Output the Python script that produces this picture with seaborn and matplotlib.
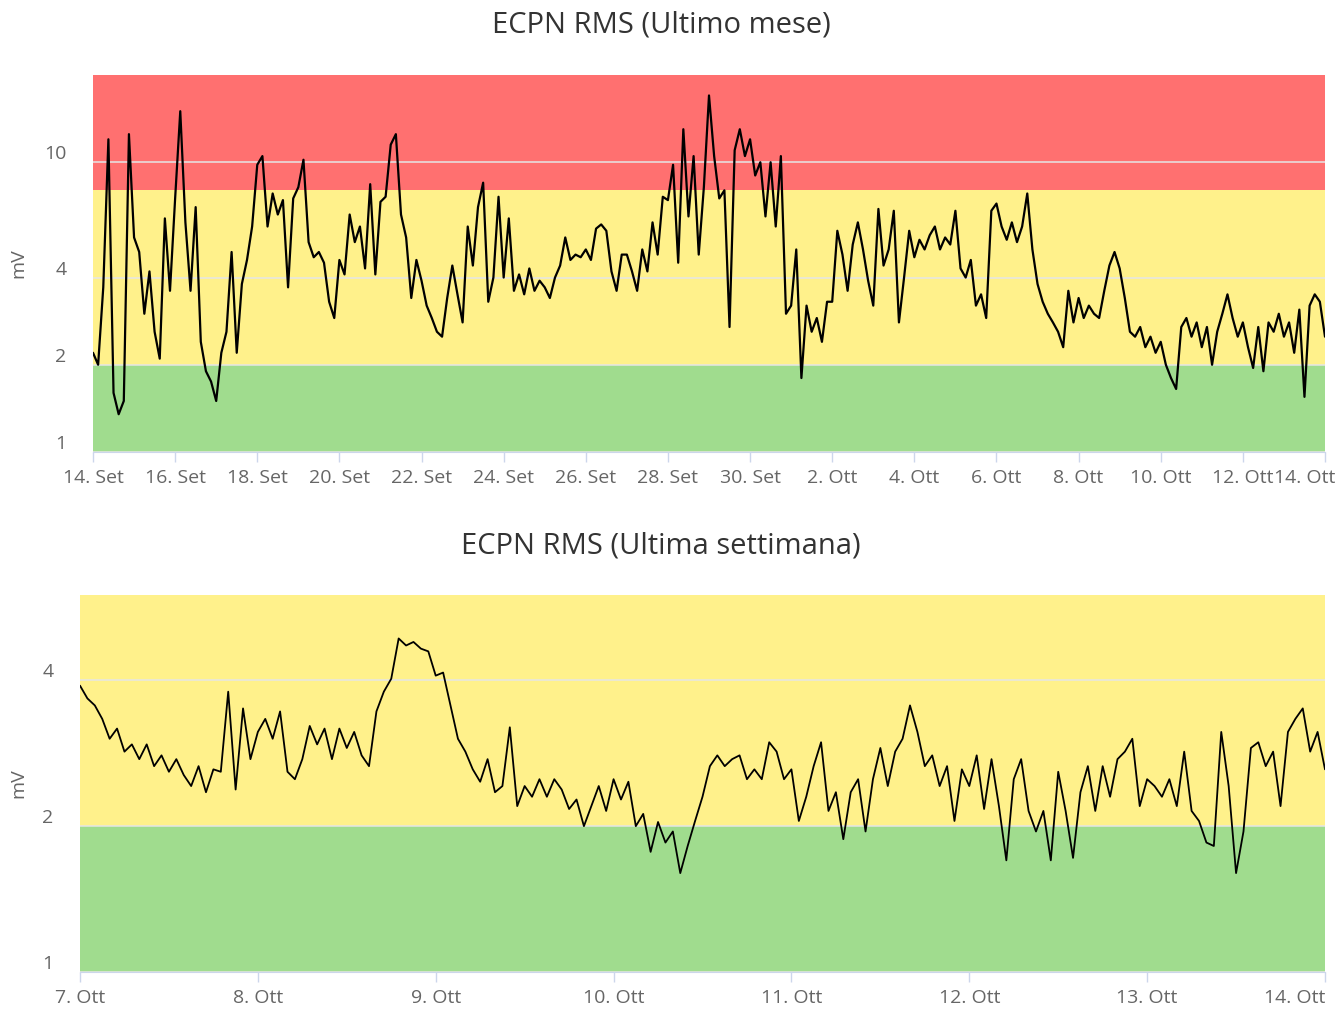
import numpy as np
import pandas as pd
import matplotlib
matplotlib.use("Agg")
import matplotlib.pyplot as plt
import matplotlib.transforms as mtransforms
import seaborn as sns

# ---- data ----
# last month, one reading every 3 hours starting 14 Sep
month_start = "2016-09-14"
month_mv = [
    2.2, 2.0, 3.7, 12.0, 1.6, 1.35, 1.5, 12.5,
    5.5, 4.9, 3.0, 4.2, 2.6, 2.1, 6.4, 3.6,
    7.5, 15.0, 6.2, 3.6, 7.0, 2.4, 1.9, 1.75,
    1.5, 2.2, 2.6, 4.9, 2.2, 3.8, 4.6, 6.0,
    9.8, 10.5, 6.0, 7.8, 6.6, 7.4, 3.7, 7.5,
    8.2, 10.2, 5.3, 4.7, 4.9, 4.5, 3.3, 2.9,
    4.6, 4.1, 6.6, 5.3, 6.0, 4.3, 8.4, 4.1,
    7.3, 7.6, 11.5, 12.5, 6.6, 5.5, 3.4, 4.6,
    3.9, 3.2, 2.9, 2.6, 2.5, 3.4, 4.4, 3.5,
    2.8, 6.0, 4.4, 7.0, 8.5, 3.3, 4.0, 7.6,
    4.0, 6.4, 3.6, 4.1, 3.5, 4.3, 3.6, 3.9,
    3.7, 3.4, 4.0, 4.4, 5.5, 4.6, 4.8, 4.7,
    5.0, 4.6, 5.9, 6.1, 5.8, 4.2, 3.6, 4.8,
    4.8, 4.2, 3.6, 5.0, 4.2, 6.2, 4.8, 7.6,
    7.4, 9.8, 4.5, 13.0, 6.5, 10.5, 4.8, 8.2,
    17.0, 10.5, 7.5, 8.0, 2.7, 11.0, 13.0, 10.5,
    12.0, 9.0, 10.0, 6.5, 10.0, 6.0, 10.5, 3.0,
    3.2, 5.0, 1.8, 3.2, 2.6, 2.9, 2.4, 3.3,
    3.3, 5.8, 4.8, 3.6, 5.2, 6.2, 5.0, 3.9,
    3.2, 6.9, 4.4, 5.0, 6.8, 2.8, 4.0, 5.8,
    4.7, 5.4, 5.0, 5.6, 6.0, 5.0, 5.5, 5.2,
    6.8, 4.3, 4.0, 4.6, 3.2, 3.5, 2.9, 6.8,
    7.2, 6.0, 5.4, 6.2, 5.3, 6.0, 7.8, 5.0,
    3.8, 3.3, 3.0, 2.8, 2.6, 2.3, 3.6, 2.8,
    3.4, 2.9, 3.2, 3.0, 2.9, 3.6, 4.4, 4.9,
    4.3, 3.4, 2.6, 2.5, 2.7, 2.3, 2.5, 2.2,
    2.4, 2.0, 1.8, 1.65, 2.7, 2.9, 2.5, 2.8,
    2.3, 2.7, 2.0, 2.6, 3.0, 3.5, 2.9, 2.5,
    2.8, 2.3, 1.95, 2.7, 1.9, 2.8, 2.6, 3.0,
    2.5, 2.8, 2.2, 3.1, 1.55, 3.2, 3.5, 3.3,
    2.5,
]
month_ticks = ["2016-09-14", "2016-09-16", "2016-09-18", "2016-09-20", "2016-09-22",
               "2016-09-24", "2016-09-26", "2016-09-28", "2016-09-30", "2016-10-02",
               "2016-10-04", "2016-10-06", "2016-10-08", "2016-10-10", "2016-10-12",
               "2016-10-14"]
month_tick_labels = ["14. Set", "16. Set", "18. Set", "20. Set", "22. Set", "24. Set",
                     "26. Set", "28. Set", "30. Set", "2. Ott", "4. Ott", "6. Ott",
                     "8. Ott", "10. Ott", "12. Ott", "14. Ott"]

# last week, one reading per hour starting 7 Oct
week_start = "2016-10-07"
week_mv = [
    3.9, 3.67, 3.55, 3.33, 3.03, 3.18, 2.85, 2.95, 2.75, 2.95, 2.66, 2.8,
    2.59, 2.75, 2.55, 2.42, 2.66, 2.35, 2.62, 2.59, 3.79, 2.38, 3.5, 2.75,
    3.13, 3.33, 3.03, 3.45, 2.59, 2.5, 2.75, 3.22, 2.95, 3.18, 2.75, 3.18,
    2.9, 3.13, 2.8, 2.66, 3.45, 3.79, 4.03, 4.88, 4.72, 4.8, 4.65, 4.59,
    4.09, 4.15, 3.55, 3.03, 2.85, 2.62, 2.47, 2.75, 2.35, 2.42, 3.2, 2.2,
    2.42, 2.3, 2.5, 2.3, 2.5, 2.38, 2.17, 2.27, 2.0, 2.2, 2.42, 2.15,
    2.5, 2.27, 2.47, 2.0, 2.12, 1.77, 2.04, 1.85, 1.95, 1.6, 1.82, 2.05,
    2.3, 2.66, 2.8, 2.66, 2.75, 2.8, 2.5, 2.62, 2.5, 2.98, 2.85, 2.5,
    2.62, 2.05, 2.3, 2.66, 2.98, 2.15, 2.35, 1.88, 2.35, 2.5, 1.95, 2.5,
    2.9, 2.42, 2.85, 3.03, 3.55, 3.13, 2.66, 2.8, 2.42, 2.66, 2.05, 2.62,
    2.42, 2.8, 2.17, 2.75, 2.2, 1.7, 2.5, 2.75, 2.15, 1.95, 2.15, 1.7,
    2.59, 2.15, 1.72, 2.35, 2.66, 2.15, 2.66, 2.3, 2.75, 2.85, 3.03, 2.2,
    2.5, 2.42, 2.3, 2.5, 2.2, 2.85, 2.15, 2.05, 1.85, 1.82, 3.13, 2.42,
    1.6, 1.95, 2.9, 2.98, 2.66, 2.85, 2.2, 3.13, 3.33, 3.5, 2.85, 3.13,
    2.62,
]
week_ticks = ["2016-10-07", "2016-10-08", "2016-10-09", "2016-10-10", "2016-10-11",
              "2016-10-12", "2016-10-13", "2016-10-14"]
week_tick_labels = ["7. Ott", "8. Ott", "9. Ott", "10. Ott", "11. Ott", "12. Ott",
                    "13. Ott", "14. Ott"]

# alarm bands (mV)
green_band = (1, 2)
yellow_band = (2, 8)
red_band = (8, 20)
month_yticks = [1, 2, 4, 10]
week_yticks = [1, 2, 4]

month = pd.DataFrame({"time": pd.date_range(month_start, periods=len(month_mv), freq="3h"),
                      "mV": month_mv})
week = pd.DataFrame({"time": pd.date_range(week_start, periods=len(week_mv), freq="1h"),
                     "mV": week_mv})

sns.set_style("white")
plt.rcParams["font.family"] = ["Open Sans", "DejaVu Sans"]

GREEN = "#a0dc8e"
YELLOW = "#fff18b"
RED = "#ff7070"
GRID = "#e6e6e6"
TEXT = "#666666"

fig = plt.figure(figsize=(13.37, 10.10), dpi=100)
ax1 = fig.add_axes([93 / 1337, 1 - 452 / 1010, 1232 / 1337, 377 / 1010])
ax2 = fig.add_axes([80 / 1337, 1 - 972 / 1010, 1245 / 1337, 377 / 1010])


def style_axis(ax, data, ylim, yticks, bands, ticks, tick_labels, lw, last_shift, ylab_x):
    ax.set_yscale("log")
    for (lo, hi), col in bands:
        ax.axhspan(lo, hi, color=col, lw=0, zorder=0.5)
    sns.lineplot(data=data, x="time", y="mV", ax=ax, color="black", lw=lw, zorder=3)
    ax.set_yticks(yticks)
    ax.set_yticklabels([str(t) for t in yticks])
    ax.yaxis.set_minor_locator(matplotlib.ticker.NullLocator())
    ax.set_ylim(*ylim)
    ax.set_xticks(pd.to_datetime(ticks))
    ax.set_xticklabels(tick_labels)
    ax.set_xlim(pd.Timestamp(ticks[0]), pd.Timestamp(ticks[-1]))
    ax.set_axisbelow("line")
    ax.grid(axis="y", color=GRID, lw=1.1, zorder=1)
    ax.grid(axis="x", visible=False)
    for s in ["left", "right", "top"]:
        ax.spines[s].set_visible(False)
    ax.spines["bottom"].set_color("#ccd6eb")
    ax.tick_params(axis="y", left=False, length=0, pad=19, labelsize=14, labelcolor=TEXT)
    ax.tick_params(axis="x", bottom=True, length=7, width=1, color="#ccd6eb", pad=5,
                   labelsize=14, labelcolor=TEXT, direction="out")
    ax.set_xlabel("")
    ax.set_ylabel("mV", fontsize=14, color=TEXT, va="center")
    ax.yaxis.set_label_coords(ylab_x, 0.5)
    up = mtransforms.ScaledTranslation(0, 0.10, fig.dpi_scale_trans)
    for lab in ax.get_yticklabels():
        lab.set_transform(lab.get_transform() + up)
    last = ax.get_xticklabels()[-1]
    last.set_horizontalalignment("right")
    last.set_transform(last.get_transform() +
                       mtransforms.ScaledTranslation(last_shift, 0, fig.dpi_scale_trans))


style_axis(ax1, month, (1, 20), month_yticks,
           [(green_band, GREEN), (yellow_band, YELLOW), (red_band, RED)],
           month_ticks, month_tick_labels, 1.6, 0.10, -75 / 1232)
style_axis(ax2, week, (1, 6), week_yticks,
           [(green_band, GREEN), (yellow_band, YELLOW)],
           week_ticks, week_tick_labels, 1.3, 0.0, -62 / 1245)

fig.text(661 / 1337, 1 - 25 / 1010, "ECPN RMS (Ultimo mese)", ha="center", va="center",
         fontsize=21, color="#333333")
fig.text(661 / 1337, 1 - 546 / 1010, "ECPN RMS (Ultima settimana)", ha="center",
         va="center", fontsize=21, color="#333333")

fig.savefig("out.png", dpi=100)
